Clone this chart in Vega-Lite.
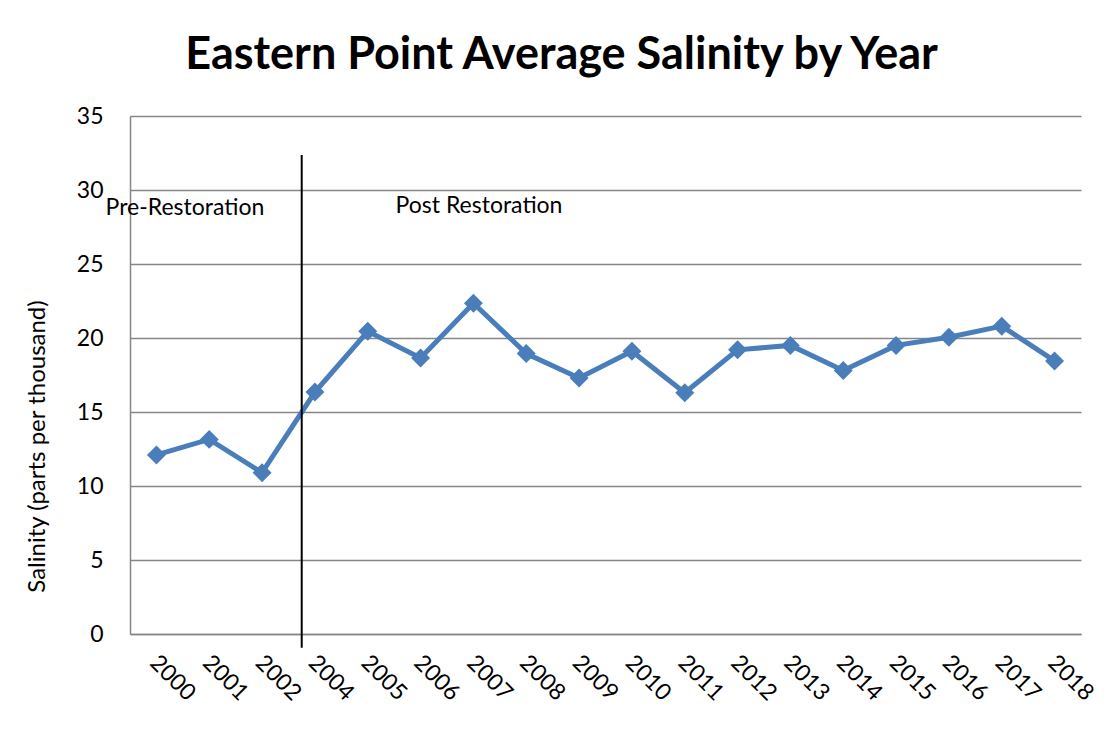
{
  "$schema": "https://vega.github.io/schema/vega-lite/v6.json",
  "width": 951,
  "height": 518,
  "autosize": {"type": "none"},
  "padding": {"left": 130, "top": 116, "right": 35, "bottom": 96},
  "background": "white",
  "title": {
    "text": "Eastern Point Average Salinity by Year",
    "font": "Lato",
    "fontSize": 45,
    "fontWeight": "bold",
    "color": "#000000",
    "anchor": "middle",
    "dx": -44,
    "offset": 27
  },
  "config": {
    "view": {"stroke": null},
    "font": "Lato",
    "axis": {
      "labelFont": "Lato",
      "titleFont": "Lato",
      "labelColor": "#000000",
      "titleColor": "#000000",
      "domainColor": "#868686",
      "gridColor": "#868686",
      "ticks": false
    }
  },
  "data": {
    "values": [
      {"year": "2000", "salinity": 12.1},
      {"year": "2001", "salinity": 13.15},
      {"year": "2002", "salinity": 10.9},
      {"year": "2004", "salinity": 16.35},
      {"year": "2005", "salinity": 20.45},
      {"year": "2006", "salinity": 18.65},
      {"year": "2007", "salinity": 22.35},
      {"year": "2008", "salinity": 18.95},
      {"year": "2009", "salinity": 17.3},
      {"year": "2010", "salinity": 19.1},
      {"year": "2011", "salinity": 16.3},
      {"year": "2012", "salinity": 19.2},
      {"year": "2013", "salinity": 19.5},
      {"year": "2014", "salinity": 17.8},
      {"year": "2015", "salinity": 19.5},
      {"year": "2016", "salinity": 20.05},
      {"year": "2017", "salinity": 20.8},
      {"year": "2018", "salinity": 18.45}
    ]
  },
  "encoding": {
    "x": {
      "field": "year",
      "type": "ordinal",
      "scale": {"paddingInner": 0, "paddingOuter": 0, "type": "band"},
      "axis": {
        "title": null,
        "labelAngle": 45,
        "labelAlign": "left",
        "labelBaseline": "top",
        "labelFontSize": 23,
        "labelPadding": 17,
        "labelOffset": 5,
        "grid": false,
        "domainWidth": 1.5
      }
    }
  },
  "layer": [
    {
      "mark": {"type": "line", "color": "#4A7EBB", "strokeWidth": 5},
      "encoding": {
        "y": {
          "field": "salinity",
          "type": "quantitative",
          "scale": {"domain": [0, 35], "nice": false},
          "axis": {
            "values": [0, 5, 10, 15, 20, 25, 30, 35],
            "title": "Salinity (parts per thousand)",
            "titleFontSize": 24,
            "titleFontWeight": "normal",
            "titleAngle": -90,
            "titleX": -93,
            "titleY": 330,
            "titleAlign": "center",
            "titleBaseline": "middle",
            "labelFontSize": 23,
            "labelPadding": 27,
            "gridWidth": 1.3,
            "domainWidth": 1.5
          }
        }
      }
    },
    {
      "mark": {"type": "point", "shape": "diamond", "filled": true, "color": "#4A7EBB", "size": 360, "opacity": 1},
      "encoding": {
        "y": {"field": "salinity", "type": "quantitative"}
      }
    },
    {
      "data": {"values": [{"year": "2004", "top": 32.36, "bottom": -0.93}]},
      "mark": {"type": "rule", "color": "#000000", "strokeWidth": 2},
      "encoding": {
        "x": {"field": "year", "type": "ordinal", "bandPosition": 0.25},
        "y": {"field": "top", "type": "quantitative"},
        "y2": {"field": "bottom"}
      }
    },
    {
      "data": {"values": [{"year": "2001", "level": 28.3, "label": "Pre-Restoration"}]},
      "mark": {"type": "text", "font": "Lato", "fontSize": 23, "fontWeight": "normal", "fill": "#000000", "align": "center", "baseline": "alphabetic"},
      "encoding": {
        "x": {"field": "year", "type": "ordinal", "bandPosition": 0.04},
        "y": {"field": "level", "type": "quantitative"},
        "text": {"field": "label"}
      }
    },
    {
      "data": {"values": [{"year": "2007", "level": 28.45, "label": "Post Restoration"}]},
      "mark": {"type": "text", "font": "Lato", "fontSize": 23, "fontWeight": "normal", "fill": "#000000", "align": "center", "baseline": "alphabetic"},
      "encoding": {
        "x": {"field": "year", "type": "ordinal", "bandPosition": 0.606},
        "y": {"field": "level", "type": "quantitative"},
        "text": {"field": "label"}
      }
    }
  ]
}
